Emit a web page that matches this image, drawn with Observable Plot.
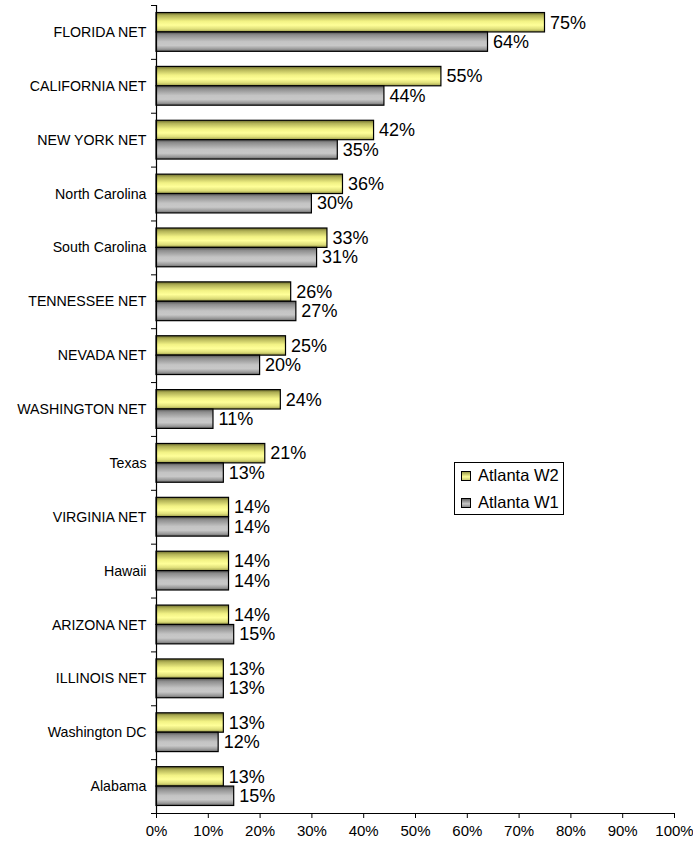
<!DOCTYPE html>
<html><head><meta charset="utf-8">
<script src="https://cdn.jsdelivr.net/npm/d3@7"></script>
<script src="https://cdn.jsdelivr.net/npm/@observablehq/plot@0.6"></script>
<style>
body{margin:0;background:#fff;font-family:Arial,"Liberation Sans",sans-serif;}
#wrap{position:relative;width:693px;height:844px;}
.legend{position:absolute;left:454px;top:462px;width:110px;height:53px;border:1px solid #000;box-sizing:border-box;background:#fff;font-size:16.5px;color:#000;}
.legend .row{position:absolute;left:6px;display:flex;align-items:center;white-space:nowrap;}
.legend .sw{width:8px;height:8px;border:1px solid #000;margin-right:7px;}
</style>
</head><body><div id="wrap"></div>
<script>
const categories = ["FLORIDA NET","CALIFORNIA NET","NEW YORK NET","North Carolina","South Carolina","TENNESSEE NET","NEVADA NET","WASHINGTON NET","Texas","VIRGINIA NET","Hawaii","ARIZONA NET","ILLINOIS NET","Washington DC","Alabama"];
const atlantaW2 = [75,55,42,36,33,26,25,24,21,14,14,14,13,13,13];
const atlantaW1 = [64,44,35,30,31,27,20,11,13,14,14,15,13,12,15];
const seriesNames = ["Atlanta W2","Atlanta W1"];
const xTicks = [0,0.1,0.2,0.3,0.4,0.5,0.6,0.7,0.8,0.9,1];

const pad = 0.14, thick = 0.36;
const rows = categories.flatMap((c, i) => [
  {category: c, index: i, series: seriesNames[0], slot: 0, value: atlantaW2[i] / 100},
  {category: c, index: i, series: seriesNames[1], slot: 1, value: atlantaW1[i] / 100}
]);
rows.forEach(d => { d.y1 = d.index + pad + d.slot * thick; d.y2 = d.y1 + thick; });

const chart = Plot.plot({
  width: 693, height: 844,
  marginLeft: 156, marginRight: 19, marginTop: 5, marginBottom: 31,
  style: {fontFamily: "Arial, 'Liberation Sans', sans-serif", fontSize: "14px", color: "#000", background: "#fff"},
  x: {domain: [0, 1], label: null},
  y: {domain: [categories.length, 0], label: null},
  marks: [
    Plot.rect(rows.filter(d => d.slot === 0), {x1: 0, x2: "value", y1: "y1", y2: "y2", fill: "url(#gW2)", stroke: "#000", strokeWidth: 1.2}),
    Plot.rect(rows.filter(d => d.slot === 1), {x1: 0, x2: "value", y1: "y1", y2: "y2", fill: "url(#gW1)", stroke: "#000", strokeWidth: 1.2}),
    Plot.text(rows, {x: "value", y: d => (d.y1 + d.y2) / 2, text: d => `${Math.round(d.value * 100)}%`, textAnchor: "start", dx: 5, fontSize: 18, fill: "#000"}),
    Plot.ruleX([0], {stroke: "#000", strokeWidth: 1.2}),
    Plot.ruleY([categories.length], {stroke: "#000", strokeWidth: 1.2}),
    Plot.axisY({ticks: d3.range(categories.length + 1), tickFormat: () => "", tickSize: 5, stroke: "#000"}),
    Plot.axisY({ticks: d3.range(categories.length).map(i => i + 0.5), tickFormat: d => categories[Math.floor(d)], tickSize: 0, tickPadding: 10, fontSize: 14.2}),
    Plot.axisX({ticks: xTicks, tickFormat: d3.format(".0%"), tickSize: 5, tickPadding: 7, fontSize: 15, stroke: "#000"})
  ]
});

const svg = chart.tagName.toLowerCase() === "svg" ? chart : chart.querySelector("svg");
const defs = d3.select(svg).insert("defs", ":first-child");
function grad(id, stops) {
  const g = defs.append("linearGradient").attr("id", id).attr("x1", 0).attr("y1", 0).attr("x2", 0).attr("y2", 1);
  stops.forEach(([o, c]) => g.append("stop").attr("offset", o).attr("stop-color", c));
}
grad("gW2", [[0, "#6a6a2c"], [0.15, "#b0b055"], [0.45, "#f2f285"], [0.65, "#ffff99"], [0.85, "#dede7a"], [1, "#9a9a48"]]);
grad("gW1", [[0, "#505050"], [0.15, "#8c8c8c"], [0.5, "#c4c4c4"], [0.7, "#c8c8c8"], [0.88, "#9a9a9a"], [1, "#6a6a6a"]]);

const wrap = document.getElementById("wrap");
wrap.appendChild(chart);

const legend = document.createElement("div");
legend.className = "legend";
const swatchFill = ["linear-gradient(#9a9a48,#ffff99 60%,#c8c870)", "linear-gradient(#666,#c8c8c8 60%,#888)"];
seriesNames.forEach((s, i) => {
  const row = document.createElement("div");
  row.className = "row";
  row.style.top = (i === 0 ? 3 : 30) + "px";
  const sw = document.createElement("span");
  sw.className = "sw";
  sw.style.background = swatchFill[i];
  const t = document.createElement("span");
  t.textContent = s;
  row.appendChild(sw); row.appendChild(t);
  legend.appendChild(row);
});
wrap.appendChild(legend);
</script>
</body></html>
